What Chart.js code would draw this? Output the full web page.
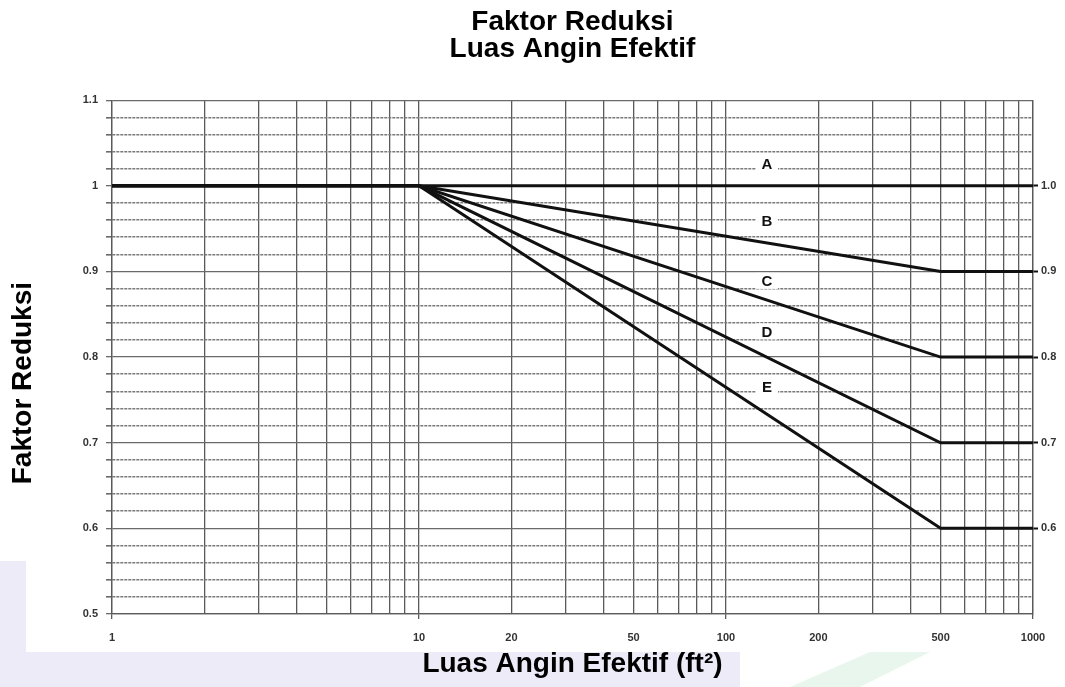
<!DOCTYPE html>
<html>
<head>
<meta charset="utf-8">
<title>Faktor Reduksi Luas Angin Efektif</title>
<script src="https://cdn.jsdelivr.net/npm/chart.js@4.4.0/dist/chart.umd.min.js"></script>
<style>
    html, body { margin: 0; padding: 0; background: #fff; }
    #wrap { width: 1065px; height: 687px; position: relative; }
</style>
</head>
<body>
<div id="wrap"><canvas id="reduksiChart"></canvas></div>
<script>
// effective wind area (ft2) where the curves bend
const areas = [1, 10, 500, 1000];

// reduction factor for each curve
const seriesA = [1.0, 1.0, 1.0, 1.0];
const seriesB = [1.0, 1.0, 0.9, 0.9];
const seriesC = [1.0, 1.0, 0.8, 0.8];
const seriesD = [1.0, 1.0, 0.7, 0.7];
const seriesE = [1.0, 1.0, 0.6, 0.6];

// curve letters and where they sit
const curveNames = ["A", "B", "C", "D", "E"];
const curveLabelY = [1.026, 0.959, 0.889, 0.830, 0.765];
const curveLabelX = 136;

// axis ticks
const xGridValues = [1, 2, 3, 4, 5, 6, 7, 8, 9, 10, 20, 30, 40, 50, 60, 70, 80, 90, 100,
    200, 300, 400, 500, 600, 700, 800, 900, 1000];
const xTickLabels = [1, 10, 20, 50, 100, 200, 500, 1000];
const yTickLabels = [0.5, 0.6, 0.7, 0.8, 0.9, 1.0, 1.1];
const rightTickLabels = ["0.6", "0.7", "0.8", "0.9", "1.0"];

const FONT = "'Liberation Sans', Arial, sans-serif";
const toPoints = (ys) => areas.map((x, i) => ({ x: x, y: ys[i] }));
const isMajorY = (v) => Math.abs(v * 10 - Math.round(v * 10)) < 1e-6;

// light watermark behind the chart
const watermark = {
    id: "watermark",
    beforeDraw(chart) {
        const ctx = chart.ctx;
        ctx.save();
        ctx.fillStyle = "#ecebf7";
        ctx.fillRect(0, 561, 26, 126);
        ctx.fillRect(0, 652, 740, 35);
        ctx.fillStyle = "#e9f6ee";
        ctx.beginPath();
        ctx.moveTo(870, 652);
        ctx.lineTo(930, 652);
        ctx.lineTo(860, 687);
        ctx.lineTo(790, 687);
        ctx.closePath();
        ctx.fill();
        ctx.restore();
    }
};

// vertical axis title, sits a bit below the middle like the original
const yTitle = {
    id: "yTitle",
    afterDraw(chart) {
        const ctx = chart.ctx;
        const area = chart.chartArea;
        ctx.save();
        ctx.translate(23, (area.top + area.bottom) / 2 + 26);
        ctx.rotate(-Math.PI / 2);
        ctx.font = "bold 28px " + FONT;
        ctx.fillStyle = "#000";
        ctx.textAlign = "center";
        ctx.textBaseline = "middle";
        ctx.fillText("Faktor Reduksi", 0, 0);
        ctx.restore();
    }
};

// letters A-E on the grid
const curveLabels = {
    id: "curveLabels",
    afterDatasetsDraw(chart) {
        const ctx = chart.ctx;
        const xs = chart.scales.x;
        const ys = chart.scales.y;
        ctx.save();
        ctx.font = "bold 15px " + FONT;
        ctx.textAlign = "center";
        ctx.textBaseline = "middle";
        curveNames.forEach((name, i) => {
            const px = xs.getPixelForValue(curveLabelX);
            const py = ys.getPixelForValue(curveLabelY[i]);
            ctx.fillStyle = "#fff";
            ctx.fillRect(px - 11, py - 8, 22, 16);
            ctx.fillStyle = "#111";
            ctx.fillText(name, px, py + 1);
        });
        ctx.restore();
    }
};

const lineStyle = {
    borderColor: "#111",
    borderWidth: 3,
    pointRadius: 0,
    fill: false,
    tension: 0
};

const ctx = document.getElementById("reduksiChart").getContext("2d");

new Chart(ctx, {
    type: "line",
    data: {
        datasets: [
            Object.assign({ label: "A", data: toPoints(seriesA) }, lineStyle),
            Object.assign({ label: "B", data: toPoints(seriesB) }, lineStyle),
            Object.assign({ label: "C", data: toPoints(seriesC) }, lineStyle),
            Object.assign({ label: "D", data: toPoints(seriesD) }, lineStyle),
            Object.assign({ label: "E", data: toPoints(seriesE) }, lineStyle)
        ]
    },
    options: {
        responsive: true,
        maintainAspectRatio: false,
        animation: false,
        layout: { padding: 0 },
        plugins: {
            legend: { display: false },
            tooltip: { enabled: false },
            title: {
                display: true,
                fullSize: false,
                text: ["Faktor Reduksi", "Luas Angin Efektif"],
                color: "#000",
                font: { family: FONT, size: 28, weight: "bold", lineHeight: 0.95 },
                padding: { top: 9, bottom: 38 }
            }
        },
        scales: {
            x: {
                type: "logarithmic",
                min: 1,
                max: 1000,
                afterBuildTicks: (scale) => {
                    scale.ticks = xGridValues.map(v => ({ value: v }));
                },
                afterFit: (scale) => { scale.height = 73; },
                ticks: {
                    autoSkip: false,
                    maxRotation: 0,
                    padding: 12,
                    color: "#333",
                    font: { family: FONT, size: 11, weight: "bold" },
                    callback: (v) => xTickLabels.includes(v) ? String(v) : ""
                },
                grid: {
                    color: "#5a5a5a",
                    lineWidth: 1.3,
                    tickLength: 5,
                    tickColor: (c) => (c.tick && [1, 10, 100, 1000].includes(c.tick.value)) ? "#5a5a5a" : "rgba(0,0,0,0)"
                },
                border: { color: "#5a5a5a", width: 1.3 },
                title: {
                    display: true,
                    text: "Luas Angin Efektif (ft\u00B2)",
                    color: "#000",
                    font: { family: FONT, size: 28, weight: "bold", lineHeight: 1.2 },
                    padding: { top: 0, bottom: 6 }
                }
            },
            y: {
                type: "linear",
                position: "left",
                min: 0.5,
                max: 1.1,
                afterFit: (scale) => { scale.width = 112; },
                ticks: {
                    stepSize: 0.02,
                    autoSkip: false,
                    padding: 8,
                    color: "#333",
                    font: { family: FONT, size: 11, weight: "bold" },
                    callback: (v) => yTickLabels.some(t => Math.abs(t - v) < 1e-6) ? String(Number(v.toFixed(2))) : ""
                },
                grid: {
                    color: (c) => (c.tick && isMajorY(c.tick.value)) ? "#6a6a6a" : "#7a7a7a",
                    lineWidth: (c) => (c.tick && isMajorY(c.tick.value)) ? 1.3 : 1.6,
                    tickLength: 6,
                    tickColor: "#6a6a6a"
                },
                border: {
                    color: "#5a5a5a",
                    width: 1.3,
                    dash: (c) => (c.tick && !isMajorY(c.tick.value)) ? [3, 1] : []
                },
                title: { display: false }
            },
            y2: {
                type: "linear",
                position: "right",
                min: 0.5,
                max: 1.1,
                afterBuildTicks: (scale) => {
                    scale.ticks = rightTickLabels.map(s => ({ value: parseFloat(s) }));
                },
                afterFit: (scale) => { scale.width = 32; },
                ticks: {
                    autoSkip: false,
                    padding: 3,
                    color: "#333",
                    font: { family: FONT, size: 11, weight: "bold" },
                    callback: (v) => v.toFixed(1)
                },
                grid: {
                    drawOnChartArea: false,
                    tickLength: 5,
                    tickColor: "#111",
                    tickWidth: 2
                },
                border: { color: "#5a5a5a", width: 1.3 }
            }
        }
    },
    plugins: [watermark, curveLabels, yTitle]
});
</script>
</body>
</html>
